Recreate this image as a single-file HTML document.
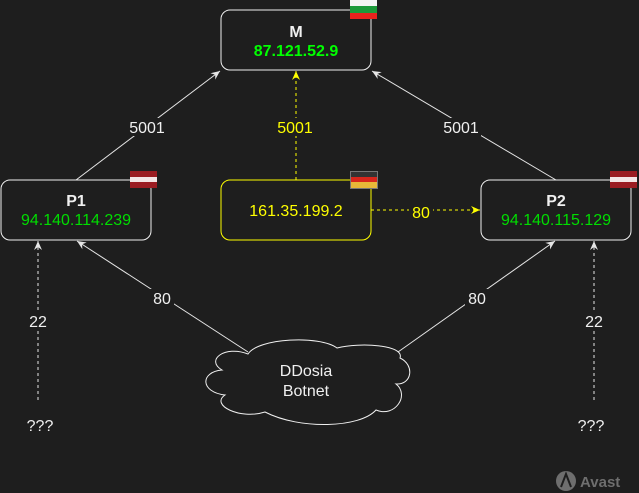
<!DOCTYPE html>
<html><head><meta charset="utf-8"><style>
html,body{margin:0;padding:0;background:#1e1e1e;}
svg{display:block;font-family:"Liberation Sans",Arial,sans-serif;}
</style></head><body>
<svg width="639" height="493" viewBox="0 0 639 493">
<defs>
<marker id="aw" markerWidth="10" markerHeight="10" refX="9" refY="5" orient="auto" markerUnits="userSpaceOnUse"><path d="M0,1 L9,5 L0,9 L3,5 Z" fill="#e6e6e6"/></marker>
<marker id="ay" markerWidth="10" markerHeight="10" refX="9" refY="5" orient="auto" markerUnits="userSpaceOnUse"><path d="M0,1 L9,5 L0,9 L3,5 Z" fill="#ffff00"/></marker>
</defs>
<rect width="639" height="493" fill="#1e1e1e"/>
<g stroke="#e6e6e6" stroke-width="1" fill="none">
<line x1="76" y1="180" x2="220" y2="71" marker-end="url(#aw)"/>
<line x1="556" y1="180" x2="372" y2="71" marker-end="url(#aw)"/>
<line x1="248" y1="352" x2="77" y2="241" marker-end="url(#aw)"/>
<line x1="398" y1="352" x2="555" y2="241" marker-end="url(#aw)"/>
<line x1="38" y1="400" x2="38" y2="241" stroke-dasharray="3,3" marker-end="url(#aw)"/>
<line x1="594" y1="400" x2="594" y2="241" stroke-dasharray="3,3" marker-end="url(#aw)"/>
</g>
<g stroke="#ffff00" stroke-width="1" fill="none" stroke-dasharray="3,3">
<line x1="296" y1="180" x2="296" y2="71" marker-end="url(#ay)"/>
<line x1="371" y1="210" x2="480" y2="210" marker-end="url(#ay)"/>
</g>
<g font-size="16" text-anchor="middle">
<rect x="127" y="118" width="40" height="18" fill="#1e1e1e"/><text x="147" y="133" fill="#f0f0f0">5001</text>
<rect x="441" y="118" width="40" height="18" fill="#1e1e1e"/><text x="461" y="133" fill="#f0f0f0">5001</text>
<rect x="275" y="118" width="40" height="18" fill="#1e1e1e"/><text x="295" y="133" fill="#ffff00">5001</text>
<rect x="409" y="203" width="24" height="18" fill="#1e1e1e"/><text x="421" y="218" fill="#ffff00">80</text>
<rect x="150" y="289" width="24" height="18" fill="#1e1e1e"/><text x="162" y="304" fill="#f0f0f0">80</text>
<rect x="465" y="289" width="24" height="18" fill="#1e1e1e"/><text x="477" y="304" fill="#f0f0f0">80</text>
<rect x="26" y="312" width="24" height="18" fill="#1e1e1e"/><text x="38" y="327" fill="#f0f0f0">22</text>
<rect x="582" y="312" width="24" height="18" fill="#1e1e1e"/><text x="594" y="327" fill="#f0f0f0">22</text>
<text x="40" y="431" fill="#f0f0f0">???</text>
<text x="591" y="431" fill="#f0f0f0">???</text>
</g>
<rect x="221" y="10" width="150" height="60" rx="9" fill="#1e1e1e" stroke="#f0f0f0"/>
<text x="296" y="37" font-size="16" font-weight="bold" fill="#f0f0f0" text-anchor="middle">M</text>
<text x="296" y="56" font-size="16" font-weight="bold" fill="#00ff00" text-anchor="middle">87.121.52.9</text>
<rect x="1" y="180" width="150" height="60" rx="9" fill="#1e1e1e" stroke="#f0f0f0"/>
<text x="76" y="206" font-size="16" font-weight="bold" fill="#f0f0f0" text-anchor="middle">P1</text>
<text x="76" y="225" font-size="16" fill="#00dd00" text-anchor="middle">94.140.114.239</text>
<rect x="221" y="180" width="150" height="60" rx="9" fill="#1e1e1e" stroke="#ffff00"/>
<text x="296" y="216" font-size="16" fill="#ffff00" text-anchor="middle">161.35.199.2</text>
<rect x="481" y="180" width="150" height="60" rx="9" fill="#1e1e1e" stroke="#f0f0f0"/>
<text x="556" y="206" font-size="16" font-weight="bold" fill="#f0f0f0" text-anchor="middle">P2</text>
<text x="556" y="225" font-size="16" fill="#00dd00" text-anchor="middle">94.140.115.129</text>
<g>
<rect x="350" y="0" width="27" height="6" fill="#f4f4f4"/><rect x="350" y="6" width="27" height="7" fill="#1c9a3a"/><rect x="350" y="13" width="27" height="6" fill="#e8231d"/>
<rect x="130" y="171" width="27" height="17" fill="#9b1c22"/><rect x="130" y="177" width="27" height="5" fill="#f4e6e6"/>
<rect x="610" y="171" width="27" height="17" fill="#9b1c22"/><rect x="610" y="177" width="27" height="5" fill="#f4e6e6"/>
<rect x="350" y="171" width="27" height="6" fill="#333"/><rect x="350" y="177" width="27" height="5" fill="#d8261c"/><rect x="350" y="182" width="27" height="6" fill="#e8b838"/>
<rect x="350.5" y="171.5" width="27" height="17" fill="none" stroke="#777" stroke-width="1"/>
</g>
<path d="M248,354 C258,338 320,335 337,348 C360,342 405,345 400,358 C415,365 412,385 396,384 C410,395 395,418 376,410 C360,428 300,430 265,412 C240,420 210,405 225,395 C200,392 200,372 222,370 C205,360 225,345 248,354 Z" fill="#1e1e1e" stroke="#f0f0f0" stroke-width="1"/>
<text x="306" y="376" font-size="16" fill="#f0f0f0" text-anchor="middle">DDosia</text>
<text x="306" y="396" font-size="16" fill="#f0f0f0" text-anchor="middle">Botnet</text>
<circle cx="566" cy="481" r="10" fill="#6e6e6e"/>
<path d="M561 487 L566 474 L571 487" fill="none" stroke="#1e1e1e" stroke-width="2"/>
<text x="580" y="487" font-size="15" font-weight="bold" fill="#6e6e6e">Avast</text>
</svg>
</body></html>
